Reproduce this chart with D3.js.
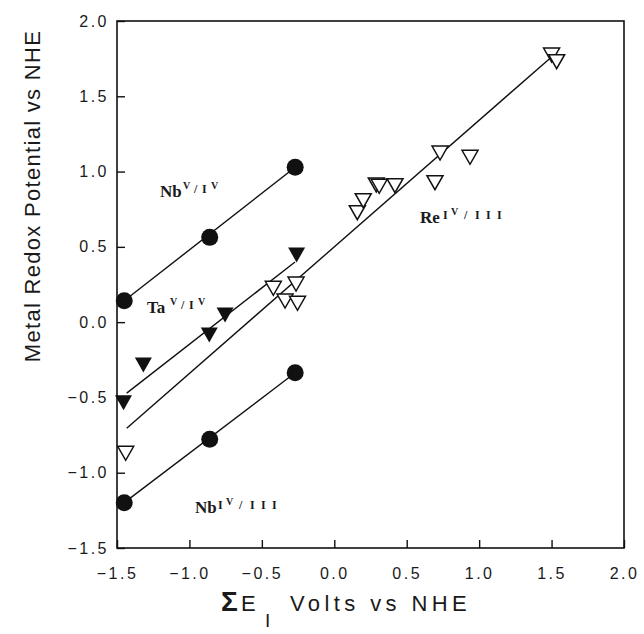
<!DOCTYPE html>
<html>
<head>
<meta charset="utf-8">
<script src="https://cdn.jsdelivr.net/npm/d3@7"></script>
<style>
  body { margin: 0; background: #fff; }
  svg text { fill: #1a1a1a; }
</style>
</head>
<body>
<svg id="chart" width="644" height="634"></svg>
<script>
// ---- measured couples (sum of ligand parameters vs. metal redox potential, V vs NHE) ----
const nb54X = [-1.45, -0.86, -0.27];
const nb54Y = [0.142, 0.563, 1.028];

const nb43X = [-1.45, -0.86, -0.27];
const nb43Y = [-1.199, -0.778, -0.336];

const taX = [-1.455, -1.318, -0.863, -0.754, -0.26];
const taY = [-0.535, -0.285, -0.085, 0.047, 0.446];

const reX = [-1.44, -0.421, -0.264, -0.340, -0.254, 0.159, 0.200, 0.290, 0.310, 0.419, 0.695, 0.730, 0.937, 1.500, 1.535];
const reY = [-0.871, 0.225, 0.253, 0.140, 0.125, 0.727, 0.807, 0.911, 0.902, 0.906, 0.926, 1.123, 1.095, 1.774, 1.730];

// ---- least-squares lines: slope, intercept, x-extent ----
const fitSlope     = [0.751, 0.731, 0.749, 0.841];
const fitIntercept = [1.231, -0.139, 0.602, 0.500];
const fitFrom      = [-1.45, -1.45, -1.433, -1.433];
const fitTo        = [-0.27, -0.27, -0.271, 1.488];

// ---- axis ticks ----
const xTicks = [-1.5, -1.0, -0.5, 0.0, 0.5, 1.0, 1.5, 2.0];
const yTicks = [-1.5, -1.0, -0.5, 0.0, 0.5, 1.0, 1.5, 2.0];

// ---- couple labels: element, raised oxidation-state glyphs ----
const labelElem  = ["Nb", "Ta", "Nb", "Re"];
const labelState = ["V/IV", "V/IV", "IV/III", "IV/III"];
const labelAtX   = [-1.203, -1.293, -0.962, 0.592];
const labelAtY   = [0.831, 0.061, -1.268, 0.658];

// ------------------------------------------------------------------
const box = { left: 117, right: 624, top: 21, bottom: 548 };

const svg = d3.select("#chart");
const x = d3.scaleLinear().domain([-1.5, 2.0]).range([box.left, box.right]);
const y = d3.scaleLinear().domain([-1.5, 2.0]).range([box.bottom, box.top]);
const fmt = d3.format(".1f");

const ink = "#111";
const sans = "'Liberation Sans', Arial, sans-serif";
const serif = "'Liberation Serif', 'Times New Roman', serif";

// axes with inward ticks
const gx = svg.append("g")
  .attr("transform", `translate(0,${box.bottom})`)
  .call(d3.axisBottom(x).tickValues(xTicks).tickFormat(fmt).tickSize(-8).tickPadding(20));
const gy = svg.append("g")
  .attr("transform", `translate(${box.left},0)`)
  .call(d3.axisLeft(y).tickValues(yTicks).tickFormat(fmt).tickSize(-8).tickPadding(8));

[gx, gy].forEach(g => {
  g.select(".domain").remove();
  g.selectAll(".tick line").attr("stroke", ink).attr("stroke-width", 1.4);
  g.selectAll(".tick text")
    .attr("font-family", sans)
    .attr("font-size", 16)
    .attr("letter-spacing", "2.5px")
    .attr("fill", "#1a1a1a");
});

// frame
svg.append("rect")
  .attr("x", box.left).attr("y", box.top)
  .attr("width", box.right - box.left).attr("height", box.bottom - box.top)
  .attr("fill", "none").attr("stroke", ink).attr("stroke-width", 1.6);

// regression lines
const plot = svg.append("g");
fitSlope.forEach((m, i) => {
  const x0 = fitFrom[i], x1 = fitTo[i];
  plot.append("line")
    .attr("x1", x(x0)).attr("y1", y(fitIntercept[i] + m * x0))
    .attr("x2", x(x1)).attr("y2", y(fitIntercept[i] + m * x1))
    .attr("stroke", ink).attr("stroke-width", 1.4);
});

// down-pointing triangle path centred on its bounding box
function tri(w, h) {
  return `M${-w / 2},${-h / 2}L${w / 2},${-h / 2}L0,${h / 2}Z`;
}

// Nb couples: filled circles
const circles = d3.zip(nb54X, nb54Y).concat(d3.zip(nb43X, nb43Y));
plot.selectAll("circle.nb").data(circles).join("circle")
  .attr("class", "nb")
  .attr("cx", d => x(d[0])).attr("cy", d => y(d[1]))
  .attr("r", 8.5).attr("fill", ink);

// Ta: filled triangles
plot.selectAll("path.ta").data(d3.zip(taX, taY)).join("path")
  .attr("class", "ta")
  .attr("transform", d => `translate(${x(d[0])},${y(d[1])})`)
  .attr("d", tri(17, 15)).attr("fill", ink);

// Re: open triangles
plot.selectAll("path.re").data(d3.zip(reX, reY)).join("path")
  .attr("class", "re")
  .attr("transform", d => `translate(${x(d[0])},${y(d[1])})`)
  .attr("d", tri(16, 14))
  .attr("fill", "#fff").attr("stroke", ink).attr("stroke-width", 1.5)
  .attr("stroke-linejoin", "miter");

// couple labels
// glyph offsets (px from label start) and baseline lifts for the raised states
const stateLayout = {
  "V/IV":   [["V", 23, -8, 10], ["/", 34, -4, 12], ["I", 42, -4, 12], ["V", 51, -8, 10]],
  "IV/III": [["I", 23, -4, 12], ["V", 31, -8, 10], ["/", 44, -4, 12], ["I", 55, -4, 12], ["I", 66, -4, 12], ["I", 77, -4, 12]]
};
labelElem.forEach((el, i) => {
  const g = svg.append("g")
    .attr("transform", `translate(${x(labelAtX[i])},${y(labelAtY[i])})`)
    .attr("font-family", serif).attr("font-weight", "bold");
  g.append("text").attr("x", 0).attr("y", 0).attr("font-size", 17).text(el);
  stateLayout[labelState[i]].forEach(([ch, dx, dy, fs]) => {
    g.append("text").attr("x", dx).attr("y", dy).attr("font-size", fs).text(ch);
  });
});

// axis titles
svg.append("text")
  .attr("transform", `translate(40,196) rotate(-90)`)
  .attr("text-anchor", "middle")
  .attr("font-family", sans).attr("font-size", 22)
  .attr("letter-spacing", "1.3px")
  .text("Metal Redox Potential vs NHE");

const xt = svg.append("g").attr("font-family", sans).attr("font-size", 22);
xt.append("text").attr("x", 221).attr("y", 611)
  .attr("font-weight", "bold").attr("font-size", 28).text("\u03A3");
xt.append("text").attr("x", 241).attr("y", 611).text("E");
xt.append("text").attr("x", 265).attr("y", 627).attr("font-size", 19).text("I");
xt.append("text").attr("x", 290).attr("y", 611)
  .attr("letter-spacing", "4.4px").text("Volts vs NHE");
</script>
</body>
</html>
